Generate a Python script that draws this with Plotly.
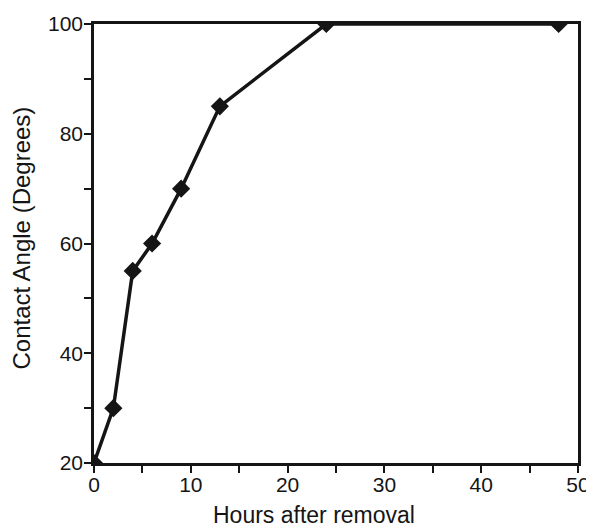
import plotly.graph_objects as go

hours = [0, 2, 4, 6, 9, 13, 24, 48]
contact_angle = [20, 30, 55, 60, 70, 85, 100, 100]

x_tickvals = [0, 5, 10, 15, 20, 25, 30, 35, 40, 45, 50]
x_ticktext = ["0", "", "10", "", "20", "", "30", "", "40", "", "50"]
y_tickvals = [20, 30, 40, 50, 60, 70, 80, 90, 100]
y_ticktext = ["20", "", "40", "", "60", "", "80", "", "100"]

x_title = "Hours after removal"
y_title = "Contact Angle (Degrees)"

fig = go.Figure()
fig.add_trace(go.Scatter(
    x=hours, y=contact_angle, mode="lines+markers",
    line=dict(color="#151515", width=3.5),
    marker=dict(symbol="diamond", size=14, color="#151515"),
    cliponaxis=True,
))

fam = "Liberation Sans, Arial, Helvetica, sans-serif"

# the page body adds an 8px offset; the figure is sized so the plot area lands where the reference has it
fig.update_layout(
    width=586, height=519,
    margin=dict(l=86, r=16, t=16, b=64),
    paper_bgcolor="white", plot_bgcolor="white",
    showlegend=False,
    font=dict(family=fam, color="#151515", size=21),
)
fig.update_xaxes(
    range=[0, 50], tickvals=x_tickvals, ticktext=x_ticktext,
    ticks="outside", ticklen=7, tickwidth=2, tickcolor="#151515",
    showline=True, linewidth=2.5, linecolor="#151515", mirror=True,
    showgrid=False, zeroline=False, automargin=False,
    tickfont=dict(size=21), ticklabelstandoff=-6, ticklabeloverflow="allow",
)
fig.update_yaxes(
    range=[20, 100], tickvals=y_tickvals, ticktext=y_ticktext,
    ticks="outside", ticklen=7, tickwidth=2, tickcolor="#151515",
    showline=True, linewidth=2.5, linecolor="#151515", mirror=True,
    showgrid=False, zeroline=False, automargin=False,
    tickfont=dict(size=21), ticklabelstandoff=-3, ticklabeloverflow="allow",
)
fig.add_annotation(
    text=x_title, xref="paper", yref="paper", x=0.4545, y=-0.1185,
    xanchor="center", yanchor="middle", showarrow=False,
    font=dict(size=23, family=fam, color="#151515"),
)
fig.add_annotation(
    text=y_title, xref="paper", yref="paper", x=-0.1488, y=0.5137,
    xanchor="center", yanchor="middle", showarrow=False, textangle=-90,
    font=dict(size=24, family=fam, color="#151515"),
)

fig.write_html("out.html")
